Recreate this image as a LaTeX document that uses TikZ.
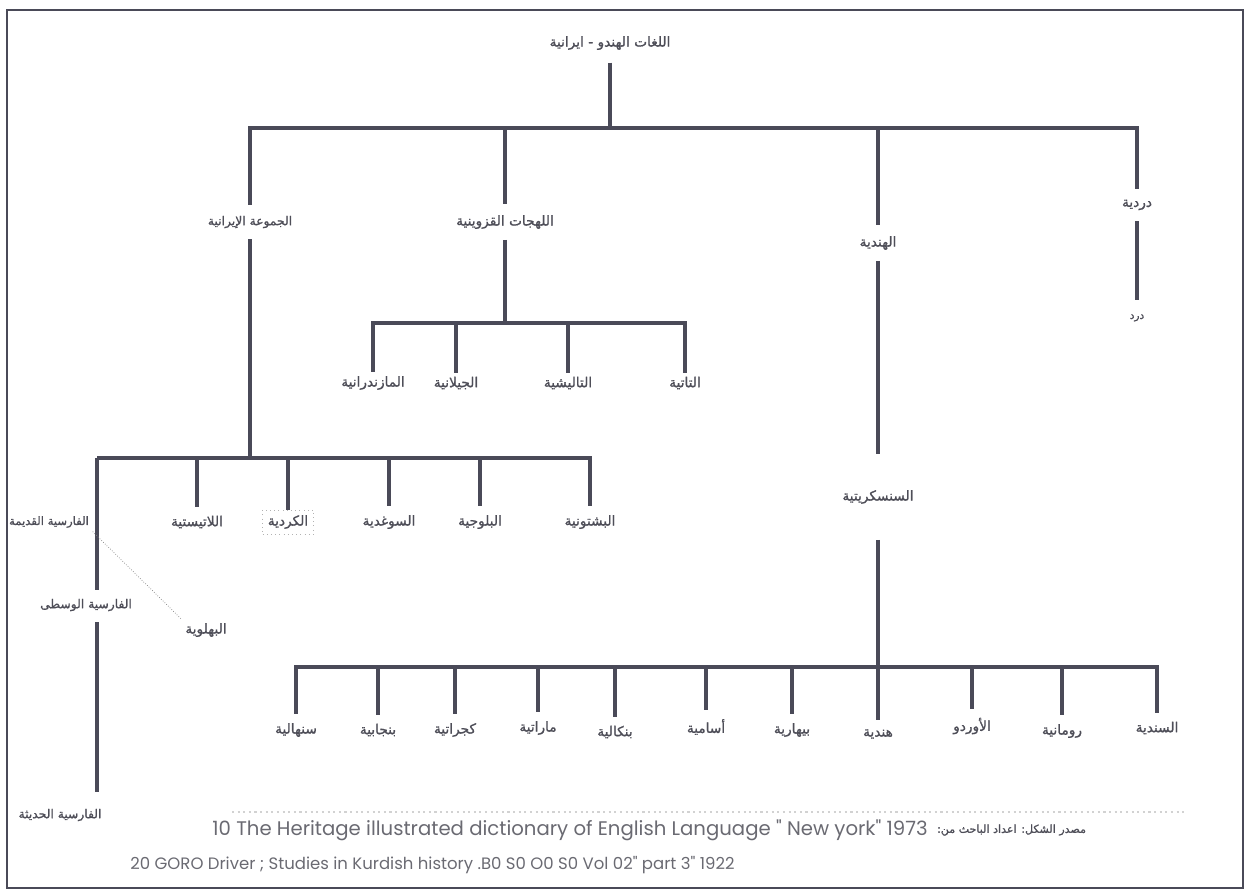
\documentclass[tikz,border=0pt]{standalone}
\usepackage{fontspec}
\newfontfamily\arabicfont[Script=Arabic,FakeBold=1.2]{DejaVu Sans}
\newfontfamily\citefont{Poppins}
\TeXXeTstate=1
\usepackage{xcolor}
\usepackage{tikz}
\usetikzlibrary{positioning,calc}
\definecolor{linegray}{HTML}{4A4A58}
\definecolor{textgray}{HTML}{4E4E58}
\definecolor{citegray}{HTML}{6A6A72}
\newcommand{\artxt}[1]{{\arabicfont\beginR #1\endR}}

\begin{document}
\begin{tikzpicture}[x=0.02cm,y=-0.02cm,
every node/.style = {inner sep=2pt,
	text=textgray,
	font=\fontsize{7.8}{9}\selectfont
	},
tree/.style = {draw=linegray, line width=1.8pt},
small/.style = {font=\fontsize{7}{8}\selectfont},
cite/.style = {anchor=west, text=citegray, inner sep=0pt}
]
\useasboundingbox (0,0) rectangle (1251,893);
\draw[linegray, line width=1.5pt] (7,10) rectangle (1243,888);

\node[font=\fontsize{7.8}{9}\selectfont,inner ysep=7pt] (root) at (610,43) {\artxt{اللغات الهندو - ايرانية}};
\coordinate (T) at (610,128);
\node[small,inner ysep=6pt] (IRN) at (250,222) {\artxt{الجموعة الإيرانية}};
\node[inner ysep=6pt] (QZW) at (505,222) {\artxt{اللهجات القزوينية}};
\node[inner ysep=6pt] (HND) at (878,243) {\artxt{الهندية}};
\node[inner ysep=6pt] (DRD) at (1137,205) {\artxt{دردية}};
\node[font=\fontsize{6}{7}\selectfont,inner ysep=8pt] (DRDb) at (1137,318) {\artxt{درد}};

	\coordinate (QB) at (505,323);
	\node (MAZ) at (373,383) {\artxt{المازندرانية}};
	\node (JIL) at (456,383) {\artxt{الجيلانية}};
	\node (TAL) at (568,383) {\artxt{التاليشية}};
	\node (TAT) at (685,383) {\artxt{التاتية}};

	\coordinate (IB) at (250,458);
	\node[font=\fontsize{6.6}{8}\selectfont] (OLDP) at (49,522) {\artxt{الفارسية القديمة}};
	\node[inner ysep=5pt] (LAT) at (197,522) {\artxt{اللاتيستية}};
	\node[draw=gray!60, dotted, inner sep=3pt] (KRD) at (288,522) {\artxt{الكردية}};
	\node[inner ysep=5pt] (SGD) at (389,522) {\artxt{السوغدية}};
	\node[inner ysep=5pt] (BLJ) at (480,522) {\artxt{البلوجية}};
	\node[inner ysep=5pt] (PSH) at (590,522) {\artxt{البشتونية}};
	\coordinate (OP1) at (97,458);
	\coordinate (OP2) at (97,590);
	\node[small] (MIDP) at (86,605) {\artxt{الفارسية الوسطى}};
	\coordinate (OP3) at (97,622);
	\coordinate (OP4) at (97,792);
	\node (PAHL) at (206,630) {\artxt{البهلوية}};
	\node[small] (MODP) at (60,815) {\artxt{الفارسية الحديثة}};

\node[minimum height=1.7cm] (SNS) at (878,497) {\artxt{السنسكريتية}};
	\coordinate (SB) at (878,667);
	\node[inner ysep=5pt] (SNH) at (296,730) {\artxt{سنهالية}};
	\node[inner ysep=5pt] (PNJ) at (378,730) {\artxt{بنجابية}};
	\node[inner ysep=5pt] (GJR) at (455,730) {\artxt{كجراتية}};
	\node[inner ysep=5pt] (MRT) at (538,728) {\artxt{ماراتية}};
	\node[inner ysep=5pt] (BNG) at (615,732) {\artxt{بنكالية}};
	\node[inner ysep=5pt] (ASM) at (706,727) {\artxt{أسامية}};
	\node[inner ysep=5pt] (BHR) at (792,730) {\artxt{بيهارية}};
	\node[inner ysep=5pt] (HNDI) at (878,734) {\artxt{هندية}};
	\node[inner ysep=5pt] (URD) at (972,726) {\artxt{الأوردو}};
	\node[inner ysep=5pt] (ROM) at (1062,731) {\artxt{رومانية}};
	\node[inner ysep=5pt] (SND) at (1157,728) {\artxt{السندية}};

\draw[tree, to path={-| (\tikztotarget)}]
(root.south) edge (T)
(T) edge (IRN) edge (QZW) edge (HND) edge (DRD)
(DRD.south) edge (DRDb)
(QZW.south) edge (QB)
(QB) edge (MAZ) edge (JIL) edge (TAL) edge (TAT)
(IRN.south) edge (IB)
(IB) edge (OP1) edge (LAT) edge (KRD) edge (SGD) edge (BLJ) edge (PSH)
(OP1) edge (OP2)
(OP3) edge (OP4)
(HND.south) edge (SNS)
(SNS.south) edge (SB)
(SB) edge (SNH) edge (PNJ) edge (GJR) edge (MRT) edge (BNG) edge (ASM)
	edge (BHR) edge (HNDI) edge (URD) edge (ROM) edge (SND);
\draw[gray, densely dotted, thin] (OLDP.south east) -- (PAHL.north west);

\draw[gray!35, dotted, line width=1.2pt] (232,812) -- (1185,812);
\node[cite, font=\citefont\fontsize{11.2}{12}\selectfont] (REF1) at (212,830)
	{10 The Heritage illustrated dictionary of English Language " New york" 1973};
\node[anchor=west, font=\fontsize{6.3}{7}\selectfont] (SRC) at ([xshift=3pt]REF1.east)
	{\artxt{مصدر الشكل: اعداد الباحث من:}};
\node[cite, font=\citefont\fontsize{9.4}{11}\selectfont] (REF2) at (130,865)
	{20 GORO Driver ; Studies in Kurdish history .B0 S0 O0 S0 Vol 02" part 3" 1922};
\end{tikzpicture}
\end{document}
